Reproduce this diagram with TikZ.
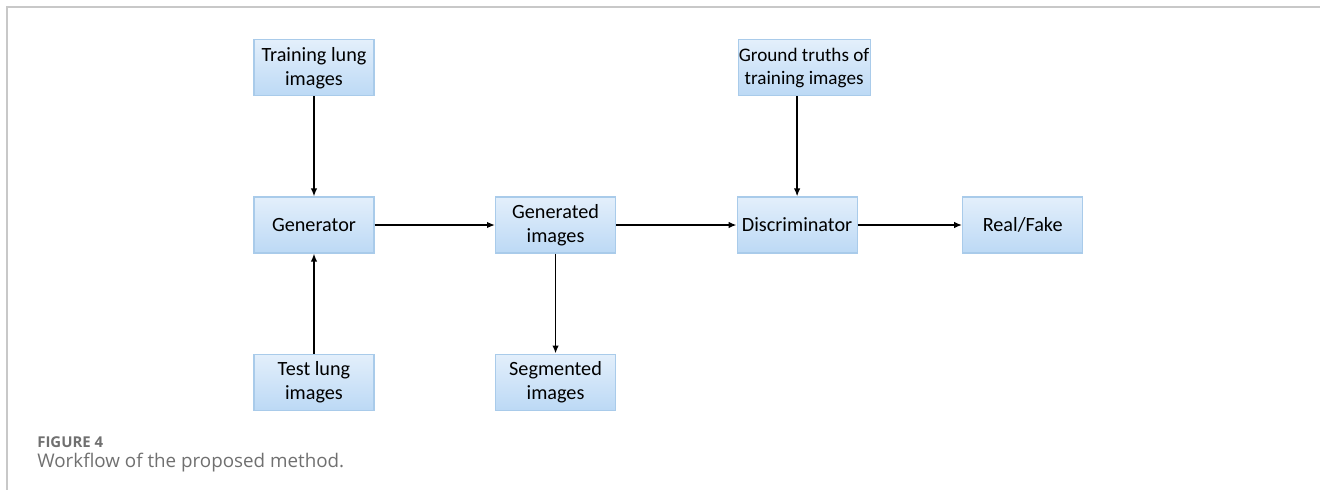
\documentclass[tikz,border=0pt]{standalone}
\usepackage{fontspec}
\setmainfont{Carlito}
\newfontfamily\capfont{Open Sans}
\usetikzlibrary{positioning,arrows.meta}

\definecolor{boxtop}{HTML}{E3EFFB}
\definecolor{boxbot}{HTML}{BCD9F5}
\definecolor{boxline}{HTML}{A9CBEA}
\definecolor{framegray}{HTML}{C8C8C8}
\definecolor{capgray}{HTML}{707070}

\tikzset{
  proc/.style={rectangle, draw=boxline, line width=0.6pt, top color=boxtop, bottom color=boxbot,
    minimum width=2.4cm, minimum height=1.12cm, align=center, inner sep=1pt,
    font=\fontsize{11.5}{13.6}\selectfont},
  flow/.style={-{Latex[length=1.6mm,width=1.3mm]}, line width=1.05pt},
  caption/.style={anchor=west, text=capgray, inner sep=0pt}
}

\begin{document}
\begin{tikzpicture}[node distance = 2cm and 2.41cm]
        \useasboundingbox (0,0) rectangle (26.4,-9.9);
        \draw[framegray, line width=0.8pt] (26.4,-0.14) -| (0.14,-9.8);

        \node[proc] (gen) at (6.28,-4.5) {Generator};
        \node[proc, above=of gen] (train) {Training lung\\images};
        \node[proc, below=of gen] (test) {Test lung\\images};

        \node[proc, right=of gen] (genimg) {Generated\\images};
        \node[proc, below=of genimg] (seg) {Segmented\\images};

        \node[proc, right=of genimg] (disc) {Discriminator};
        \node[proc, above=of disc, xshift=0.14cm, minimum width=2.64cm, inner xsep=0pt,
          font=\fontsize{10.9}{13.6}\selectfont] (gt) {Ground truths of\\training images};
        \node[proc, right=2.09cm of disc] (rf) {Real/Fake};

        \draw[flow] (train) -- (gen);
        \draw[flow] (test) -- (gen);
        \draw[flow] (gen) -- (genimg);
        \draw[flow] (genimg) -- (seg);
        \draw[flow] (genimg) -- (disc);
        \draw[flow] (gt.south -| disc.north) -- (disc);
        \draw[flow] (disc) -- (rf);

        \node[caption, font=\capfont\bfseries\fontsize{8.5}{10}\selectfont] (fig) at (0.74,-8.84) {FIGURE 4};
        \node[caption, font=\capfont\fontsize{10.7}{12}\selectfont] (cap) at (0.74,-9.26) {Workflow of the proposed method.};

    \end{tikzpicture}
\end{document}
